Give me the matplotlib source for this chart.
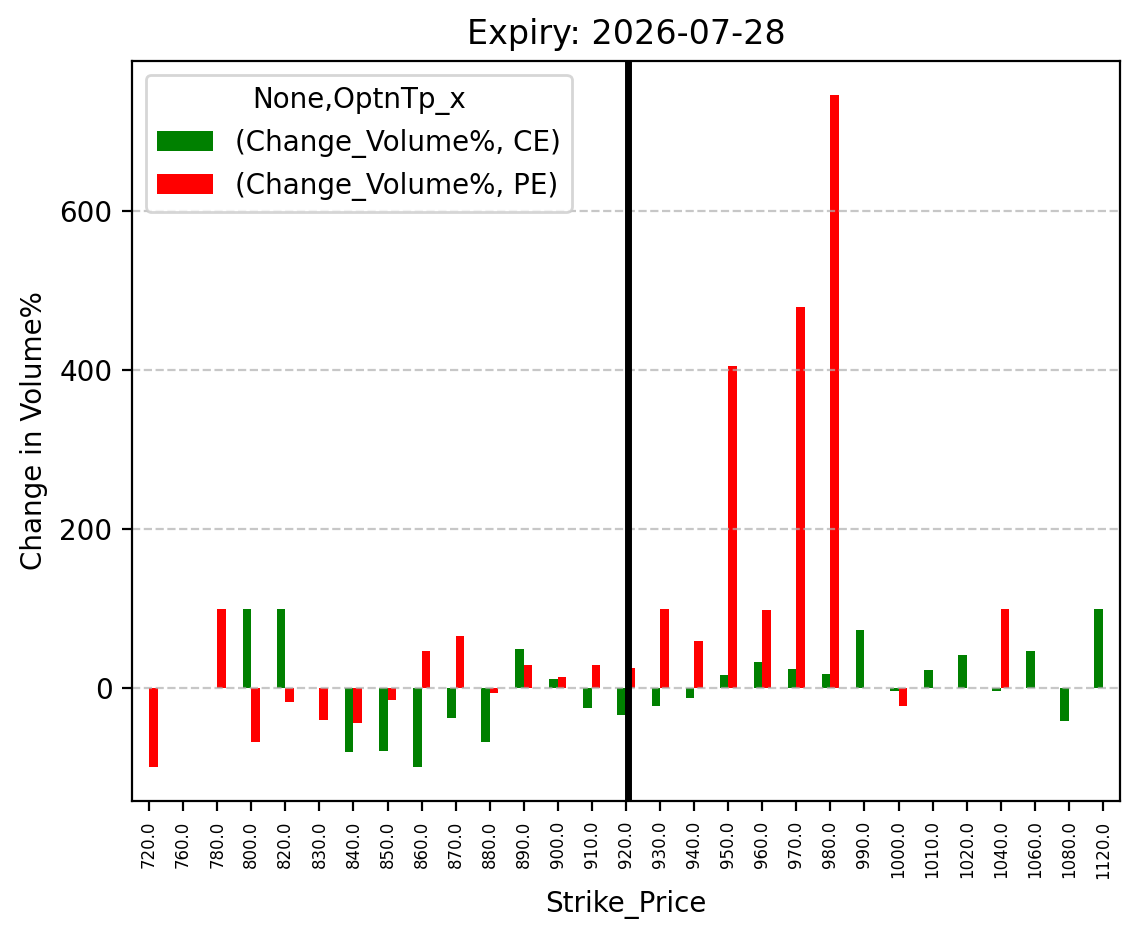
import numpy as np
import matplotlib
matplotlib.use("Agg")
import matplotlib.pyplot as plt

strikes = [720, 760, 780, 800, 820, 830, 840, 850, 860, 870, 880, 890, 900, 910, 920,
           930, 940, 950, 960, 970, 980, 990, 1000, 1010, 1020, 1040, 1060, 1080, 1120]
nan = np.nan
ce_change = [nan, nan, nan, 100, 100, nan, -81, -80, -100, -38, -68, 49, 11, -25, -34,
             -23, -13, 16, 33, 24, 18, 73, -4, 22, 42, -4, 47, -42, 100]
pe_change = [-100, nan, 100, -68, -18, -40, -44, -15, 47, 66, -7, 29, 14, 29, 25,
             100, 59, 405, 98, 479, 747, nan, -23, nan, nan, 100, nan, nan, nan]
spot_strike = 920
tick_labels = [f"{float(s)}" for s in strikes]

fig = plt.figure(figsize=(1143 / 200, 939 / 200), dpi=200)
ax = fig.add_axes([132 / 1143, 1 - 801 / 939, (1120 - 132) / 1143, (801 - 61) / 939])

x = np.arange(len(strikes))
w = 0.25
ax.bar(x - w / 2, ce_change, width=w, color="green", label="(Change_Volume%, CE)")
ax.bar(x + w / 2, pe_change, width=w, color="red", label="(Change_Volume%, PE)")
ax.set_xlim(-0.5, len(strikes) - 0.5)
ax.set_xticks(x)
ax.set_xticklabels(tick_labels, rotation=90, fontsize=6)
ax.grid(axis="y", linestyle="--", alpha=0.7)
ax.axvline(strikes.index(spot_strike) + 0.05, color="black", linewidth=2.5)
ax.set_title("Expiry: 2026-07-28", fontsize=12)
ax.set_xlabel("Strike_Price", fontsize=10)
ax.set_ylabel("Change in Volume%", fontsize=10)
ax.legend(title="None,OptnTp_x", loc="upper left", fontsize=10, title_fontsize=10)

fig.savefig("out.png", dpi=200)
